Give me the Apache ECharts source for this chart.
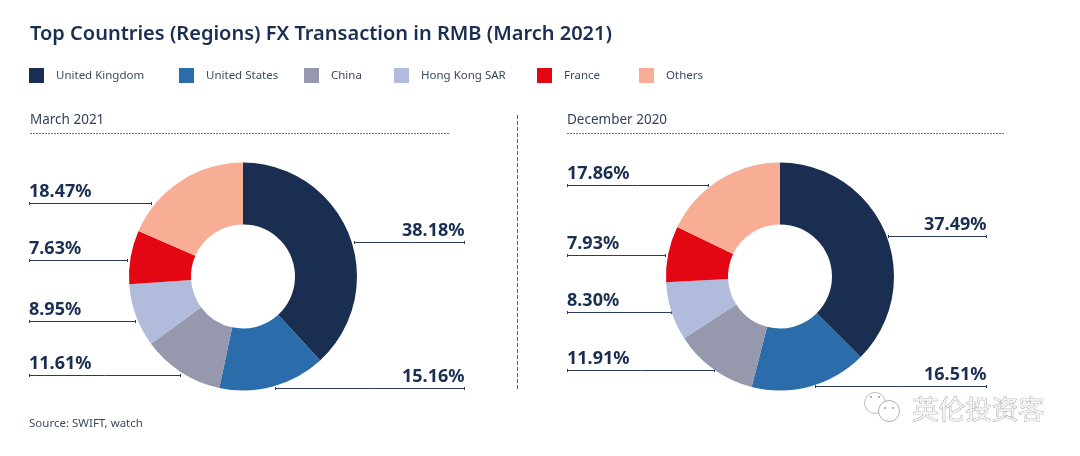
<!DOCTYPE html>
<html><head><meta charset="utf-8">
<style>html,body{margin:0;padding:0;background:#fff}#c{width:1080px;height:456px}</style>
<script src="https://cdn.jsdelivr.net/npm/echarts@6/dist/echarts.min.js"></script>
</head><body><div id="c"></div>
<script>
const categories = ['United Kingdom','United States','China','Hong Kong SAR','France','Others'];
const march2021 = [38.18,15.16,11.61,8.95,7.63,18.47];
const december2020 = [37.49,16.51,11.91,8.30,7.93,17.86];
const colors = ['#1a2e52','#2b6cab','#9698ad','#b1bcdc','#e30613','#f7ae94'];
const legendLeft = [29,179,304,394,537,639];
// leader layout: [line y, line x from, line x to] per category
const marchLeaders = [[242.5,354,464.5],[388.5,275,464.5],[375.5,180,29],[321.5,135,29],[260.5,127,29],[203.5,151,29]];
const decLeaders = [[236.5,888,986.5],[386.5,815,986.5],[370.5,714,567],[312.5,671,567],[255.5,665,567],[185.5,708,567]];
const ink = '#1a2e52';
const chart = echarts.init(document.getElementById('c'));
function pie(name, values, cx, leaders){
  return {
    type:'pie', name, center:[cx,276.5], radius:[52,114], startAngle:90, clockwise:true,
    silent:true, animation:false, avoidLabelOverlap:false,
    itemStyle:{borderWidth:0},
    data:categories.map((c,i)=>({name:c,value:values[i],itemStyle:{color:colors[i]}})),
    label:{show:true,formatter:p=>p.value.toFixed(2)+'%',fontFamily:'Noto Sans',fontSize:18,fontWeight:700,color:ink},
    labelLine:{show:true,lineStyle:{color:'#2c3c5e',width:1}},
    labelLayout:p=>{
      const [y,a,b]=leaders[p.dataIndex];
      return {x:b,y:y-3,align:b>a?'right':'left',verticalAlign:'bottom',
        labelLinePoints:[[a,y],[(a+b)/2,y],[b,y]]};
    }
  };
}
const endTicks = [...marchLeaders,...decLeaders].flatMap(([y,a,b])=>[a,b].map(x=>({
  type:'rect',shape:{x:Math.floor(x),y:y-1.5,width:1,height:3},style:{fill:'#2c3c5e'},silent:true
})));
const dash = {stroke:'#6d7890',lineWidth:1,lineDash:[2,1]};
chart.setOption({
  animation:false,
  backgroundColor:'#fff',
  title:[
    {text:'Top Countries (Regions) FX Transaction in RMB (March 2021)',left:30,top:24,padding:0,textStyle:{fontFamily:'Noto Sans',fontSize:20,fontWeight:600,color:ink}},
    {text:'March 2021',left:30,top:113,padding:0,textStyle:{fontFamily:'Noto Sans',fontSize:13.5,fontWeight:400,color:'#33415f'}},
    {text:'December 2020',left:567,top:113,padding:0,textStyle:{fontFamily:'Noto Sans',fontSize:13.5,fontWeight:400,color:'#33415f'}},
    {text:'Source: SWIFT, watch',left:29,top:418,padding:0,textStyle:{fontFamily:'Noto Sans',fontSize:11.5,fontWeight:400,color:'#3c4862'}}
  ],
  legend:categories.map((c,i)=>({
    data:[c],left:legendLeft[i],top:68,padding:0,itemWidth:15,itemHeight:15,itemGap:0,icon:'rect',selectedMode:false,
    textStyle:{fontFamily:'Noto Sans',fontSize:11.5,color:'#3c4862',padding:[0,0,0,7]}
  })),
  series:[pie('March 2021',march2021,243,marchLeaders),pie('December 2020',december2020,780,decLeaders)],
  graphic:[
    ...endTicks,
    {type:'line',shape:{x1:30,y1:133.5,x2:450,y2:133.5},style:dash,silent:true},
    {type:'line',shape:{x1:567,y1:133.5,x2:1004,y2:133.5},style:dash,silent:true},
    {type:'line',shape:{x1:517.5,y1:115,x2:517.5,y2:390},style:{stroke:'#5a6680',lineWidth:1,lineDash:[4,2]},silent:true},
    {type:'text',left:912,top:395,silent:true,style:{text:'英伦投资客',fontFamily:'Noto Sans CJK SC',fontSize:26.5,fill:'#f4f4f4',stroke:'#8f8f8f',lineWidth:0.7}},
    {type:'circle',shape:{cx:875,cy:403,r:10.5},style:{fill:'#fff',stroke:'#bdbdbd',lineWidth:1},silent:true},
    {type:'circle',shape:{cx:889,cy:411,r:10.5},style:{fill:'#fff',stroke:'#b0b0b0',lineWidth:1},silent:true},
    ...[[871,397],[879,397],[885,408],[893,408]].map(([x,y])=>({type:'circle',shape:{cx:x,cy:y,r:1},style:{fill:'#999'},silent:true}))
  ]
});
</script></body></html>
